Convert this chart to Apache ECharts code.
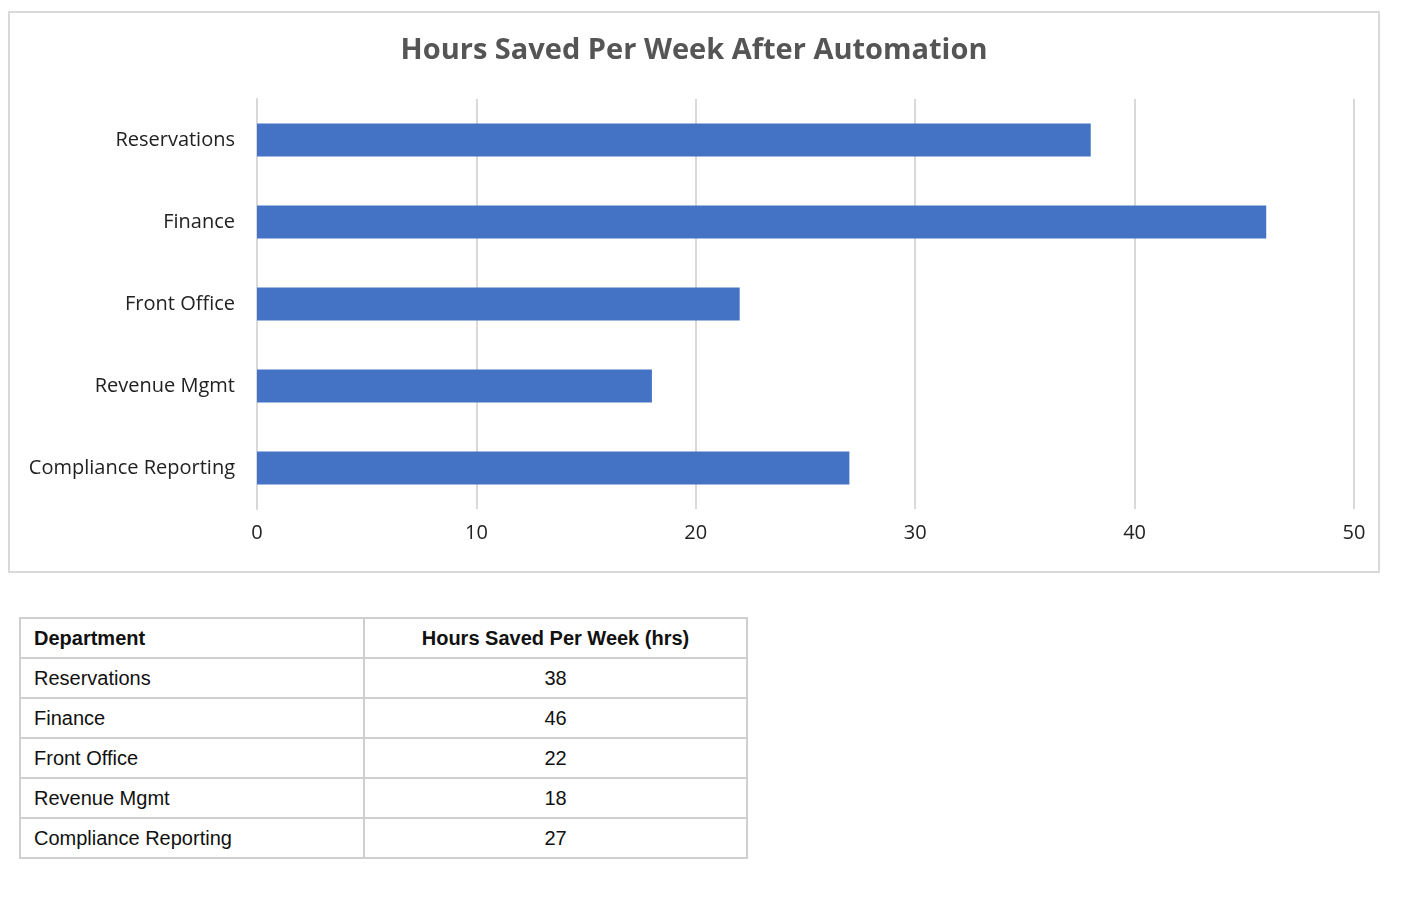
<!DOCTYPE html>
<html><head><meta charset="utf-8">
<script src="https://cdn.jsdelivr.net/npm/echarts@6/dist/echarts.min.js"></script>
<style>
body{margin:0;background:#fff;width:1408px;height:912px;position:relative;font-family:"Liberation Sans",Arial,sans-serif;}
#chart{position:absolute;left:8px;top:11px;width:1372px;height:562px;border:2px solid #d9d9d9;box-sizing:border-box;}
table{position:absolute;left:19px;top:617px;width:729px;border-collapse:collapse;font-size:20px;color:#111;}
td,th{border:2px solid #cfcfcf;height:38px;padding:0 13px;}
th{font-weight:bold;}
td:nth-child(2),th:nth-child(2){text-align:center;}
th:first-child,td:first-child{text-align:left;width:316px;}
</style></head><body>
<div id="chart"></div>
<table id="tbl"></table>
<script>
const categories=["Reservations","Finance","Front Office","Revenue Mgmt","Compliance Reporting"];
const hours=[38,46,22,18,27];
const xTicks=[0,10,20,30,40,50];
const chart=echarts.init(document.getElementById('chart'));
chart.setOption({
 animation:false,
 title:{text:"Hours Saved Per Week After Automation",left:'center',top:18,textStyle:{fontFamily:"Open Sans",fontSize:29,fontWeight:'bold',color:'#555'}},
 grid:{left:247,right:24,top:86,bottom:62},
 xAxis:{type:'value',min:xTicks[0],max:xTicks[xTicks.length-1],interval:10,
  axisLabel:{fontFamily:"Open Sans",fontSize:20,color:'#222',margin:14},
  splitLine:{lineStyle:{color:'#d9d9d9',width:2}},axisLine:{show:false},axisTick:{show:false}},
 yAxis:{type:'category',data:categories,inverse:true,
  axisLabel:{fontFamily:"Open Sans",fontSize:20,color:'#222',margin:22},
  axisLine:{lineStyle:{color:'#d9d9d9',width:2}},axisTick:{show:false}},
 series:[{type:'bar',data:hours,barWidth:33,itemStyle:{color:'#4472c4'}}]
});
let h='<tr><th>Department</th><th>Hours Saved Per Week (hrs)</th></tr>';
categories.forEach((c,i)=>{h+=`<tr><td>${c}</td><td>${hours[i]}</td></tr>`;});
document.getElementById('tbl').innerHTML=h;
</script></body></html>
